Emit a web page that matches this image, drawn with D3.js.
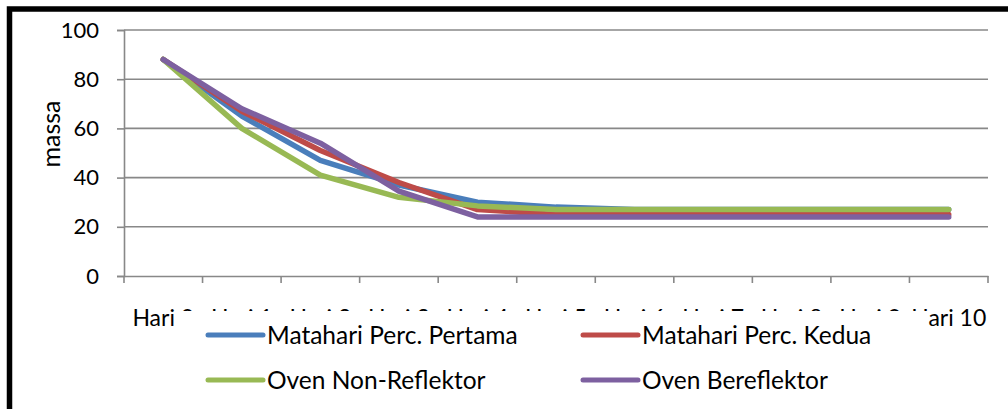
<!DOCTYPE html>
<html>
<head>
<meta charset="utf-8">
<script src="https://cdn.jsdelivr.net/npm/d3@7"></script>
<style>
  html, body { margin: 0; padding: 0; background: #fff; }
  svg { display: block; font-family: Lato, "Open Sans", sans-serif; }
</style>
</head>
<body>
<svg id="chart" width="1008" height="409"></svg>
<script>
// Drying days and mass readings per method
const categories = ["Hari 0", "Hari 1", "Hari 2", "Hari 3", "Hari 4", "Hari 5",
                    "Hari 6", "Hari 7", "Hari 8", "Hari 9", "Hari 10"];
const seriesNames = ["Matahari Perc. Pertama", "Matahari Perc. Kedua",
                     "Oven Non-Reflektor", "Oven Bereflektor"];
const mataharPertama = [88, 65, 47, 37, 30, 28, 27, 27, 27, 27, 27];
const matahariKedua  = [88, 67, 51, 38, 27, 25, 25, 25, 25, 25, 25];
const ovenNonRef     = [88, 60, 41, 32, 28.5, 27, 27, 27, 27, 27, 27];
const ovenBeref      = [88, 68, 54, 34.5, 24, 24, 24, 24, 24, 24, 24];
const yTicks = [0, 20, 40, 60, 80, 100];
const colors = ["#4A7EBB", "#BE4B48", "#98B954", "#7D60A0"];

const seriesValues = [mataharPertama, matahariKedua, ovenNonRef, ovenBeref];

const svg = d3.select("#chart");
const plot = { left: 124, right: 988, top: 30, bottom: 276 };

const x = d3.scaleBand().domain(categories).range([plot.left, plot.right]);
const y = d3.scaleLinear().domain([0, 100]).range([plot.bottom, plot.top]);

// outer frame
svg.append("rect")
  .attr("x", 9.5).attr("y", 9).attr("width", 1100).attr("height", 500)
  .attr("fill", "none").attr("stroke", "#000").attr("stroke-width", 5.5);

// horizontal gridlines
svg.append("g")
  .selectAll("line").data(yTicks.filter(d => d > 0)).join("line")
  .attr("x1", plot.left).attr("x2", plot.right)
  .attr("y1", d => y(d)).attr("y2", d => y(d))
  .attr("stroke", "#888").attr("stroke-width", 1.6);

// y axis
const yAxis = svg.append("g")
  .attr("transform", `translate(${plot.left},0)`)
  .call(d3.axisLeft(y).tickValues(yTicks).tickSize(7).tickPadding(18));
yAxis.select(".domain").attr("stroke", "#888").attr("stroke-width", 1.6);
yAxis.selectAll(".tick line").attr("stroke", "#888").attr("stroke-width", 1.6);
yAxis.selectAll(".tick text")
  .attr("font-size", 22).attr("fill", "#000")
  .attr("font-family", "Lato, 'Open Sans', sans-serif");

// x axis with ticks at category boundaries
const xAxis = svg.append("g")
  .attr("transform", `translate(0,${plot.bottom})`)
  .call(d3.axisBottom(x).tickSize(0).tickPadding(34));
xAxis.select(".domain").attr("stroke", "#888").attr("stroke-width", 1.6);
xAxis.selectAll(".tick text")
  .attr("font-size", 23).attr("fill", "#000")
  .attr("font-family", "Lato, 'Open Sans', sans-serif");
const bounds = categories.map(c => x(c)).concat([x(categories[categories.length - 1]) + x.bandwidth()]);
svg.append("g")
  .selectAll("line").data(bounds).join("line")
  .attr("x1", d => d).attr("x2", d => d)
  .attr("y1", plot.bottom).attr("y2", plot.bottom + 7)
  .attr("stroke", "#888").attr("stroke-width", 1.6);

// y axis title
svg.append("text")
  .attr("transform", "translate(60,134) rotate(-90)")
  .attr("text-anchor", "middle")
  .attr("font-size", 25).attr("fill", "#000")
  .text("massa");

// series lines
const line = d3.line()
  .x((d, i) => x(categories[i]) + x.bandwidth() / 2)
  .y(d => y(d));

svg.append("g")
  .selectAll("path").data(seriesValues).join("path")
  .attr("d", d => line(d))
  .attr("fill", "none")
  .attr("stroke", (d, i) => colors[i])
  .attr("stroke-width", 5.5)
  .attr("stroke-linejoin", "round")
  .attr("stroke-linecap", "round");

// legend box drawn over the category labels
const legend = svg.append("g");
legend.append("rect")
  .attr("x", 178).attr("y", 311).attr("width", 750).attr("height", 100)
  .attr("fill", "#fff");

const legendPos = [
  { lx: 208, ty: 335 }, { lx: 583, ty: 335 },
  { lx: 208, ty: 380 }, { lx: 583, ty: 380 }
];
const items = legend.selectAll("g.item").data(seriesNames).join("g")
  .attr("class", "item")
  .attr("transform", (d, i) => `translate(${legendPos[i].lx},${legendPos[i].ty})`);
items.append("line")
  .attr("x1", 0).attr("x2", 55).attr("y1", 0).attr("y2", 0)
  .attr("stroke", (d, i) => colors[i])
  .attr("stroke-width", 5).attr("stroke-linecap", "round");
items.append("text")
  .attr("x", 59).attr("y", 8.5)
  .attr("font-size", 24.5).attr("fill", "#000")
  .text(d => d);
</script>
</body>
</html>
